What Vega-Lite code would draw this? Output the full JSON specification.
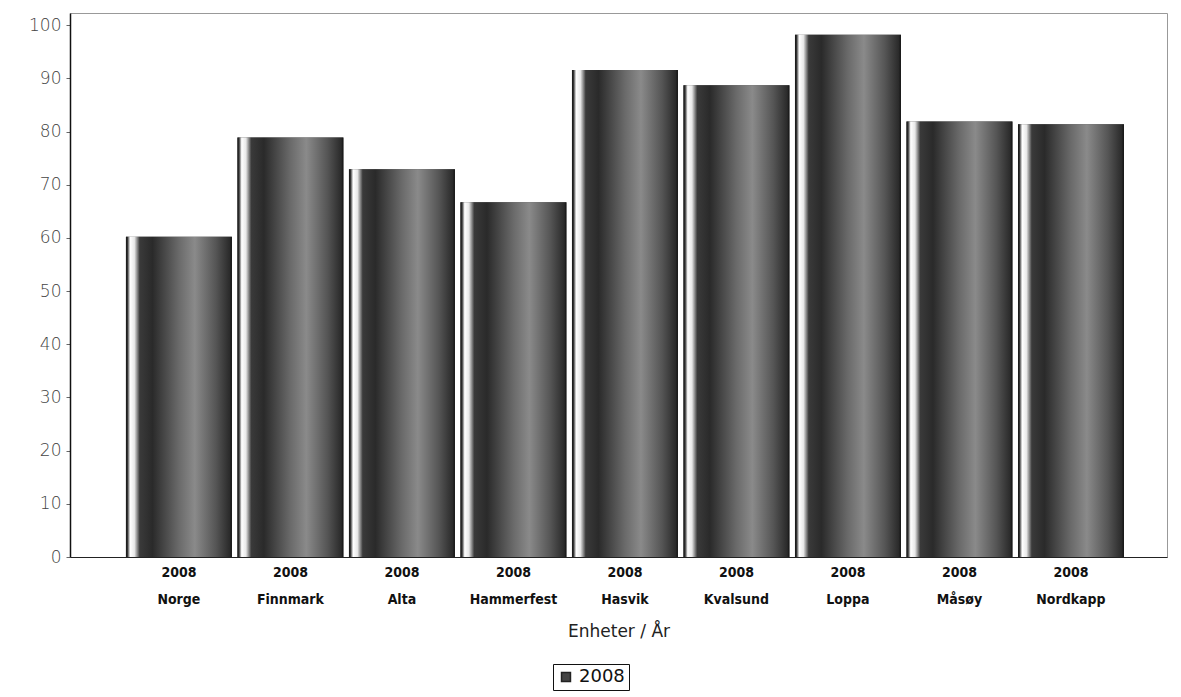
{
  "$schema": "https://vega.github.io/schema/vega-lite/v6.json",
  "autosize": "none",
  "width": 1097,
  "height": 544,
  "padding": {"left": 70, "top": 13, "right": 14, "bottom": 140},
  "background": "white",
  "config": {
    "view": {"stroke": "#999", "strokeWidth": 1},
    "font": "DejaVu Sans"
  },
  "data": {
    "values": [
      {"enhet": "Norge", "aar": "2008", "verdi": 60.2},
      {"enhet": "Finnmark", "aar": "2008", "verdi": 78.9},
      {"enhet": "Alta", "aar": "2008", "verdi": 72.9},
      {"enhet": "Hammerfest", "aar": "2008", "verdi": 66.7},
      {"enhet": "Hasvik", "aar": "2008", "verdi": 91.6},
      {"enhet": "Kvalsund", "aar": "2008", "verdi": 88.7},
      {"enhet": "Loppa", "aar": "2008", "verdi": 98.2},
      {"enhet": "Måsøy", "aar": "2008", "verdi": 81.9},
      {"enhet": "Nordkapp", "aar": "2008", "verdi": 81.4}
    ]
  },
  "encoding": {
    "x": {
      "field": "enhet",
      "type": "nominal",
      "sort": null,
      "scale": {"paddingInner": 0.05, "paddingOuter": 0.444, "align": 0.565},
      "axis": {
        "title": "Enheter / År",
        "titleFont": "DejaVu Sans",
        "titleFontSize": 17,
        "titleFontWeight": "normal",
        "titleColor": "#222",
        "titlePadding": 17,
        "labelExpr": "['2008', datum.label]",
        "labelFont": "DejaVu Sans Condensed",
        "labelFontSize": 14,
        "labelFontWeight": "bold",
        "labelColor": "#111",
        "labelLineHeight": 27,
        "labelPadding": 8,
        "labelAngle": 0,
        "ticks": false,
        "domainColor": "#222",
        "grid": false
      }
    },
    "y": {
      "field": "verdi",
      "type": "quantitative",
      "scale": {"domain": [0, 102.3], "nice": false},
      "axis": {
        "title": null,
        "values": [0, 10, 20, 30, 40, 50, 60, 70, 80, 90, 100],
        "labelFont": "DejaVu Sans",
        "labelFontSize": 17,
        "labelColor": "#444",
        "labelFontWeight": 300,
        "tickSize": 4,
        "tickColor": "#666",
        "labelPadding": 5,
        "domainColor": "#111",
        "domainWidth": 1.5,
        "grid": false
      }
    }
  },
  "layer": [
    {
      "mark": {"type": "bar"},
      "encoding": {
        "color": {
          "field": "aar",
          "type": "nominal",
          "scale": {"range": ["#444"]},
          "legend": {
            "title": null,
            "orient": "none",
            "legendX": 483,
            "legendY": 651,
            "strokeColor": "#111",
            "padding": 4,
            "symbolType": "square",
            "symbolSize": 80,
            "symbolStrokeColor": "#222",
            "labelFontSize": 18,
            "labelFont": "DejaVu Sans",
            "labelColor": "#111"
          }
        }
      }
    },
    {
      "mark": {
        "type": "bar",
        "color": {
          "gradient": "linear",
          "x1": 0, "x2": 1, "y1": 0, "y2": 0,
          "stops": [
            {"offset": 0, "color": "#111"},
            {"offset": 0.015, "color": "#333"},
            {"offset": 0.04, "color": "#ffffff"},
            {"offset": 0.08, "color": "#e8e8e8"},
            {"offset": 0.13, "color": "#3a3a3a"},
            {"offset": 0.25, "color": "#2a2a2a"},
            {"offset": 0.5, "color": "#6a6a6a"},
            {"offset": 0.65, "color": "#8a8a8a"},
            {"offset": 0.85, "color": "#555"},
            {"offset": 0.98, "color": "#2a2a2a"},
            {"offset": 1, "color": "#111"}
          ]
        }
      }
    }
  ]
}
